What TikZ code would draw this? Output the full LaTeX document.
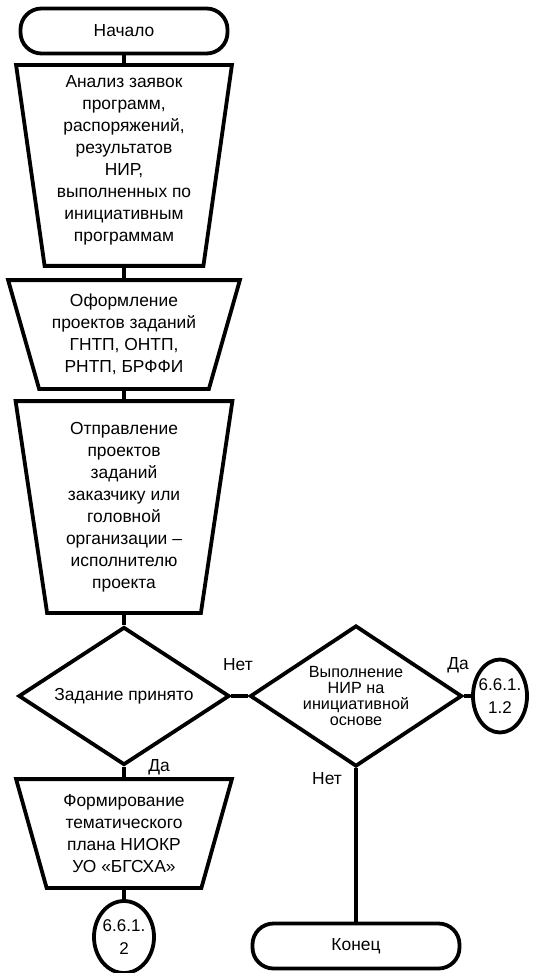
\documentclass[tikz,border=0pt]{standalone}
\usepackage{fontspec}
\setmainfont{Liberation Sans}
\usetikzlibrary{shapes.geometric}
\newcommand\manualop[2]{\draw (#1.north west) -- (#1.north east) -- ([xshift=-#2]#1.south east) -- ([xshift=#2]#1.south west) -- cycle;}
\begin{document}
\begin{tikzpicture}[x=1pt,y=-1pt, line width=3.8pt,
  every node/.style={font=\fontsize{17.4}{22}\selectfont, inner sep=0pt, align=center},
  term/.style={draw, rounded corners=21pt, minimum width=207pt, minimum height=45pt},
  opbox/.style 2 args={minimum width=#1, minimum height=#2},
  decision/.style={draw, diamond, aspect=1.5},
  connector/.style={draw, ellipse, inner sep=-4pt, font=\fontsize{17}{23}\selectfont},
  lbl/.style={}]
\useasboundingbox (0,0) rectangle (534,973);

\node[term] (start) at (124,31) {Начало};

\node[opbox={212pt}{197pt}, text depth=14pt] (t1) at (124,165.5)
  {Анализ заявок\\программ,\\распоряжений,\\результатов\\НИР,\\выполненных по\\инициативным\\программам};
\manualop{t1}{28.5pt}

\node[opbox={228pt}{105pt}] (t2) at (124,334.5)
  {Оформление\\проектов заданий\\ГНТП, ОНТП,\\РНТП, БРФФИ};
\manualop{t2}{31pt}

\node[opbox={213pt}{208pt}] (t3) at (124,507)
  {Отправление\\проектов\\заданий\\заказчику или\\головной\\организации –\\исполнителю\\проекта};
\manualop{t3}{31.5pt}

\node[decision, minimum width=211pt, minimum height=138pt] (d1) at (124,696) {Задание принято};

\node[decision, minimum width=212pt, minimum height=141pt, font=\fontsize{16.2}{16}\selectfont] (d2) at (356,696)
  {Выполнение\\НИР на\\инициативной\\основе};

\node[connector, minimum width=54pt, minimum height=73pt] (c1) at (500,696) {6.6.1.\\1.2};

\node[opbox={212pt}{105pt}] (t4) at (124,833.5)
  {Формирование\\тематического\\плана НИОКР\\УО «БГСХА»};
\manualop{t4}{30.5pt}

\node[connector, minimum width=60pt, minimum height=72pt] (c2) at (124,937) {6.6.1.\\2};

\node[term] (end) at (356,946) {Конец};

\node[lbl] (n1) at (238,665) {Нет};
\node[lbl] (y1) at (458,665) {Да};
\node[lbl] (y2) at (159,767) {Да};
\node[lbl] (n2) at (327,779) {Нет};

\draw (start) -- (t1);
\draw (t1) -- (t2);
\draw (t2) -- (t3);
\draw (t3.south) -- (d1.north);
\draw (d1.east) -- (d2.west);
\draw (d2.east) -- (c1.west);
\draw (d1.south) -- (t4.north);
\draw (t4.south) -- (c2.north);
\draw (d2.south) -- (end.north);
\end{tikzpicture}
\end{document}
